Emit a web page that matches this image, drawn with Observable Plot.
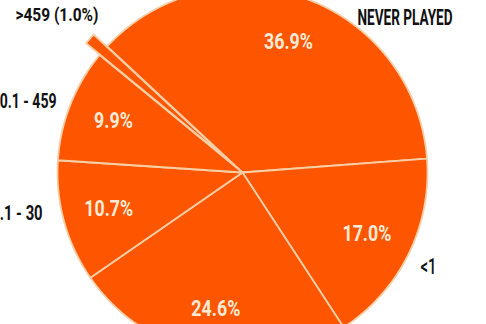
<!DOCTYPE html>
<html><head><meta charset="utf-8">
<script src="https://cdn.jsdelivr.net/npm/d3@7"></script>
<script src="https://cdn.jsdelivr.net/npm/@observablehq/plot@0.6"></script>
<style>html,body{margin:0;padding:0;background:#fff;overflow:hidden}</style>
</head><body><div id="chart"></div>
<script>
// ---- data ----
const categories = ["Never played", "<1", "1 - 10", "10.1 - 30", "30.1 - 459", ">459"];
const values = [36.9, 17.0, 24.6, 10.7, 9.9, 1.0];
const pctLabels = ["36.9%", "17.0%", "24.6%", "10.7%", "9.9%", ""];
const outerLabels = ["NEVER PLAYED", "<1", "", "10.1 - 30", "30.1 - 459", ">459 (1.0%)"];

// ---- layout (not data) ----
const W = 486, H = 324, R = 185, CX = 242, CY = 172;
const startDeg = -47;
const explode = [0, 0, 0, 0, 0, 0.097];
const pctR = 0.75;
// polar anchor (deg clockwise from top, radius in pie radii), font size, weight, target width px
const outerStyle = [
  {a: 46.4, r: 1.213, anchor: "middle", size: 21.5, weight: "bold", w: 95},
  {a: 116.9, r: 1.127, anchor: "middle", size: 22.5, weight: "500", w: 16},
  null,
  {a: 258.4, r: 1.103, anchor: "end", size: 21, weight: "bold", w: 60},
  {a: 290.9, r: 1.076, anchor: "end", size: 19.5, weight: "bold", w: 65},
  {a: 310.4, r: 1.317, anchor: "middle", size: 19, weight: "bold", w: 83}
];
const pctTargetW = 49; // width of "36.9%"
const ORANGE = "#fe5500", EDGE = "#f7cfa6", PCT = "#fdebd6";
const FONT = "Roboto, 'Liberation Sans', sans-serif";

const rad = d => d * Math.PI / 180;
const arcs = d3.pie().sort(null).startAngle(rad(startDeg)).endAngle(rad(startDeg) + 2 * Math.PI)(values);

// slice polygons
const polys = [];
arcs.forEach((a, i) => {
  const mid = (a.startAngle + a.endAngle) / 2;
  const ox = explode[i] * Math.sin(mid), oy = explode[i] * Math.cos(mid);
  polys.push({k: i, x: ox, y: oy});
  const n = Math.max(2, Math.ceil((a.endAngle - a.startAngle) / 0.005));
  for (let j = 0; j <= n; j++) {
    const t = a.startAngle + (a.endAngle - a.startAngle) * j / n;
    polys.push({k: i, x: ox + Math.sin(t), y: oy + Math.cos(t)});
  }
});

const pctData = arcs.map((a, i) => {
  const mid = (a.startAngle + a.endAngle) / 2;
  return {x: pctR * Math.sin(mid), y: pctR * Math.cos(mid), t: pctLabels[i]};
}).filter(d => d.t);

const outerIdx = outerLabels.map((l, i) => i).filter(i => outerLabels[i] && outerStyle[i]);
const outerMarks = outerIdx.map(i => {
  const s = outerStyle[i];
  return Plot.text([{x: s.r * Math.sin(rad(s.a)), y: s.r * Math.cos(rad(s.a)), t: outerLabels[i]}], {
    x: "x", y: "y", text: "t", fill: "#111", fontSize: s.size, fontWeight: s.weight,
    fontFamily: FONT, textAnchor: s.anchor
  });
});

const plot = Plot.plot({
  width: W, height: H, margin: 0,
  x: {domain: [-CX / R, (W - CX) / R], axis: null},
  y: {domain: [-(H - CY) / R, CY / R], axis: null},
  style: {background: "#fff"},
  marks: [
    Plot.line(polys, {x: "x", y: "y", z: "k", curve: "linear-closed", fill: ORANGE, stroke: EDGE, strokeWidth: 1.8, strokeLinejoin: "round"}),
    Plot.text(pctData, {x: "x", y: "y", text: "t", fill: PCT, fontSize: 22, fontWeight: "bold", fontFamily: FONT}),
    ...outerMarks
  ]
});
document.getElementById("chart").appendChild(plot);

// horizontal condensing to match the reference's condensed typeface
const textGroups = [...plot.querySelectorAll('g[aria-label="text"]')];
const pctTexts = [...textGroups[0].querySelectorAll("text")];
const pctScale = pctTargetW / pctTexts[0].getComputedTextLength();
pctTexts.forEach(t => t.setAttribute("transform", (t.getAttribute("transform") || "") + ` scale(${pctScale},1)`));
textGroups.slice(1).forEach((g, gi) => {
  const s = outerStyle[outerIdx[gi]];
  g.querySelectorAll("text").forEach(t => {
    const sx = s.w / t.getComputedTextLength();
    t.setAttribute("transform", (t.getAttribute("transform") || "") + ` scale(${sx},1)`);
  });
});
</script>
</body></html>
